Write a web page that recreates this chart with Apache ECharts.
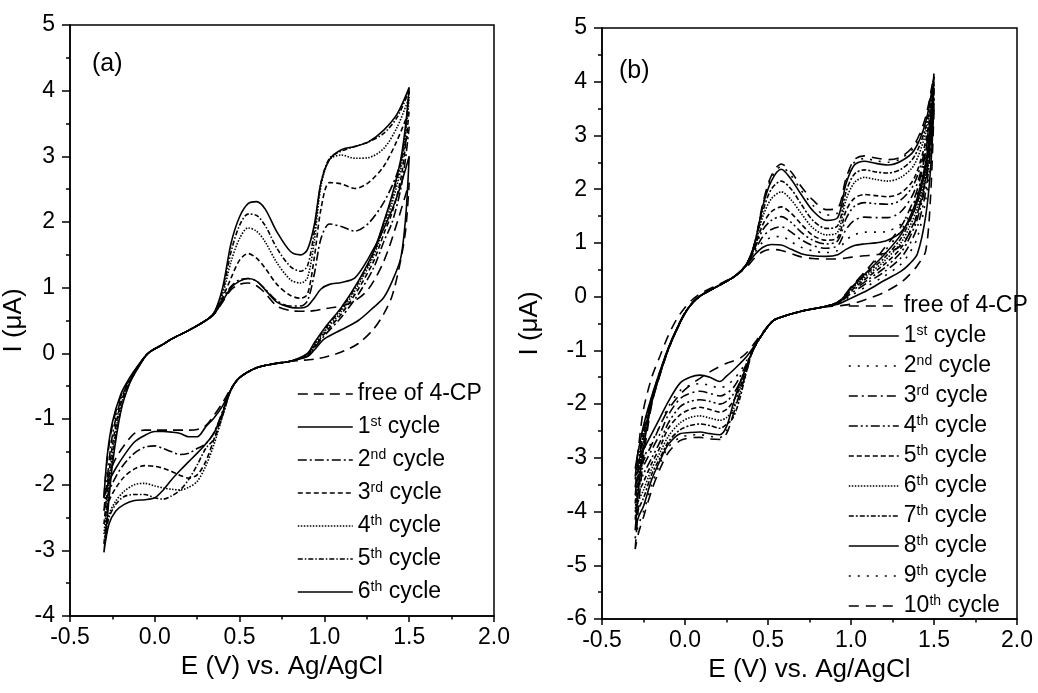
<!DOCTYPE html>
<html><head><meta charset="utf-8">
<script src="https://cdn.jsdelivr.net/npm/echarts@6/dist/echarts.min.js"></script>
<style>html,body{margin:0;padding:0;background:#fff}#c{width:1038px;height:693px}</style>
</head><body><div id="c"></div>
<script>
// ---------- Panel (a): potential path (V) and currents (µA) ----------
const aX = [-0.3,-0.28,-0.25,-0.2,-0.15,-0.1,-0.04,0.05,0.1,0.2,0.3,
 0.35,0.4,0.45,0.5,0.55,0.6,0.65,0.72,0.8,0.86,0.9,0.94,0.98,1.03,1.1,1.18,1.26,1.35,1.43,1.5,
 1.48,1.45,1.4,1.35,1.29,1.2,1.1,1.0,0.94,0.9,
 0.8,0.7,0.6,0.5,0.45,
 0.4,0.35,0.3,0.25,0.2,0.15,0.1,0.05,0.0,-0.06,-0.12,-0.18,-0.23,-0.27,-0.3];
const aFree = [-2.2,-1.6,-1.1,-0.65,-0.4,-0.2,0.0,0.14,0.22,0.35,0.5,
 0.6,0.78,0.97,1.05,1.07,1.03,0.92,0.72,0.65,0.64,0.64,0.65,0.67,0.69,0.72,0.8,0.98,1.4,2.0,2.6,
 1.9,1.42,0.88,0.6,0.37,0.15,0.02,-0.06,-0.09,-0.1,
 -0.12,-0.16,-0.22,-0.37,-0.53,
 -0.75,-0.94,-1.1,-1.16,-1.17,-1.17,-1.17,-1.17,-1.17,-1.17,-1.22,-1.4,-1.6,-1.85,-2.2];
const a1 = [-2.2,-1.55,-1.05,-0.62,-0.38,-0.19,0.0,0.14,0.22,0.35,0.5,
 0.6,0.8,1.0,1.1,1.14,1.1,0.97,0.78,0.7,0.69,0.72,0.84,0.98,1.05,1.08,1.15,1.45,1.9,2.4,3.0,
 2.1,1.45,1.1,0.85,0.7,0.5,0.36,0.22,0.05,-0.05,
 -0.12,-0.16,-0.22,-0.37,-0.55,
 -0.8,-0.98,-1.12,-1.27,-1.27,-1.22,-1.2,-1.19,-1.19,-1.25,-1.35,-1.55,-1.75,-1.95,-2.2];
const a2 = [-2.4,-1.9,-1.25,-0.7,-0.42,-0.2,0.0,0.14,0.22,0.35,0.5,
 0.6,0.82,1.02,1.12,1.14,1.1,0.98,0.8,0.72,0.72,0.8,1.2,1.75,1.97,1.93,1.86,1.98,2.3,2.75,3.45,
 3.0,2.5,2.0,1.7,1.3,0.9,0.55,0.27,0.08,-0.04,
 -0.12,-0.16,-0.22,-0.37,-0.55,
 -0.88,-1.2,-1.38,-1.45,-1.52,-1.54,-1.5,-1.45,-1.41,-1.43,-1.52,-1.68,-1.88,-2.1,-2.4];
const a3 = [-2.6,-2.1,-1.4,-0.75,-0.44,-0.21,0.0,0.14,0.22,0.35,0.5,
 0.6,0.85,1.15,1.42,1.52,1.45,1.3,1.05,0.88,0.84,0.9,1.45,2.2,2.6,2.58,2.51,2.6,2.85,3.25,3.7,
 3.2,2.65,2.15,1.82,1.4,0.98,0.6,0.3,0.1,-0.03,
 -0.12,-0.16,-0.22,-0.37,-0.55,
 -0.92,-1.3,-1.65,-1.85,-1.9,-1.86,-1.8,-1.75,-1.72,-1.71,-1.76,-1.88,-2.05,-2.25,-2.6];
const a4 = [-2.75,-2.25,-1.5,-0.8,-0.45,-0.22,0.0,0.14,0.22,0.35,0.5,
 0.62,0.9,1.4,1.75,1.91,1.86,1.7,1.38,1.12,1.07,1.15,1.7,2.55,2.95,3.02,2.97,2.98,3.12,3.45,3.9,
 3.35,2.8,2.3,1.92,1.48,1.04,0.64,0.33,0.12,-0.02,
 -0.12,-0.16,-0.22,-0.37,-0.55,
 -0.95,-1.38,-1.72,-1.95,-2.04,-2.08,-2.07,-2.05,-2.02,-1.98,-2.0,-2.1,-2.25,-2.45,-2.75];
const a5 = [-2.9,-2.4,-1.6,-0.85,-0.46,-0.22,0.0,0.14,0.22,0.35,0.5,
 0.62,0.95,1.55,1.95,2.12,2.1,1.95,1.6,1.32,1.25,1.33,1.85,2.6,2.97,3.08,3.15,3.22,3.35,3.6,4.0,
 3.45,2.9,2.38,1.98,1.52,1.08,0.68,0.36,0.14,-0.01,
 -0.12,-0.16,-0.22,-0.37,-0.55,
 -0.95,-1.3,-1.45,-1.7,-1.92,-2.08,-2.17,-2.22,-2.2,-2.15,-2.15,-2.18,-2.3,-2.5,-2.9];
const a6 = [-3.03,-2.5,-1.7,-0.88,-0.47,-0.23,0.0,0.14,0.22,0.35,0.5,
 0.62,1.0,1.68,2.08,2.28,2.31,2.2,1.85,1.55,1.5,1.58,1.95,2.6,2.95,3.1,3.15,3.22,3.4,3.65,4.05,
 3.5,2.95,2.42,2.0,1.55,1.1,0.7,0.38,0.16,0.0,
 -0.12,-0.16,-0.22,-0.37,-0.55,
 -0.9,-1.21,-1.38,-1.52,-1.65,-1.78,-1.92,-2.08,-2.2,-2.23,-2.24,-2.3,-2.4,-2.6,-3.03];
const aNames = ['free of 4-CP','1st cycle','2nd cycle','3rd cycle','4th cycle','5th cycle','6th cycle'];

// ---------- Panel (b) ----------
const bX = [-0.3,-0.28,-0.25,-0.2,-0.15,-0.1,-0.05,0.0,0.05,0.1,0.2,0.3,
 0.37,0.42,0.47,0.52,0.58,0.64,0.70,0.77,0.85,0.92,0.97,1.02,1.08,1.15,1.22,1.30,1.38,1.45,1.50,
 1.48,1.45,1.4,1.35,1.3,1.2,1.1,1.0,0.93,
 0.85,0.75,0.69,0.6,0.53,0.47,
 0.41,0.37,0.33,0.29,0.25,0.21,0.15,0.09,0.03,-0.03,-0.1,-0.15,-0.2,-0.25,-0.28,-0.3];
const bFree = [-3.35,-2.8,-2.1,-1.5,-1.1,-0.72,-0.42,-0.2,-0.04,0.07,0.22,0.38,
 0.55,0.72,0.84,0.88,0.86,0.80,0.74,0.71,0.70,0.70,0.72,0.74,0.76,0.78,0.82,0.95,1.35,2.2,3.5,
 1.9,0.85,0.58,0.4,0.26,0.08,-0.04,-0.14,-0.17,
 -0.19,-0.24,-0.28,-0.36,-0.45,-0.66,
 -0.9,-1.05,-1.15,-1.2,-1.24,-1.3,-1.4,-1.52,-1.65,-1.82,-2.1,-2.4,-2.75,-3.05,-3.22,-3.35];
const b1 = [-3.2,-2.85,-2.4,-1.85,-1.38,-0.95,-0.6,-0.3,-0.1,0.03,0.2,0.38,
 0.58,0.78,0.92,0.97,0.96,0.88,0.80,0.76,0.75,0.78,0.88,0.95,0.98,1.00,1.05,1.20,1.6,2.4,3.6,
 2.4,1.5,0.8,0.6,0.47,0.3,0.12,-0.03,-0.13,
 -0.18,-0.24,-0.28,-0.36,-0.45,-0.68,
 -0.95,-1.12,-1.25,-1.37,-1.48,-1.58,-1.5,-1.46,-1.5,-1.61,-1.95,-2.25,-2.55,-2.85,-3.05,-3.2];
const b2 = [-3.4,-2.95,-2.45,-1.86,-1.39,-0.95,-0.6,-0.3,-0.1,0.03,0.2,0.38,
 0.58,0.82,1.02,1.10,1.12,1.02,0.92,0.85,0.82,0.86,1.05,1.15,1.20,1.20,1.22,1.35,1.75,2.55,3.7,
 2.6,1.8,1.1,0.8,0.6,0.38,0.2,0.02,-0.12,
 -0.18,-0.24,-0.28,-0.36,-0.45,-0.68,
 -0.97,-1.2,-1.4,-1.55,-1.65,-1.7,-1.65,-1.62,-1.65,-1.75,-2.05,-2.4,-2.7,-3.0,-3.2,-3.4];
const b3 = [-3.55,-3.05,-2.5,-1.88,-1.4,-0.96,-0.6,-0.3,-0.1,0.03,0.2,0.38,
 0.59,0.86,1.12,1.25,1.30,1.20,1.06,0.95,0.90,0.95,1.25,1.42,1.48,1.47,1.47,1.58,1.95,2.7,3.8,
 2.75,1.95,1.3,0.95,0.72,0.46,0.26,0.06,-0.11,
 -0.18,-0.24,-0.28,-0.36,-0.45,-0.68,
 -0.98,-1.25,-1.5,-1.7,-1.8,-1.85,-1.8,-1.76,-1.8,-1.9,-2.2,-2.55,-2.85,-3.15,-3.35,-3.55];
const b4 = [-3.7,-3.15,-2.55,-1.9,-1.4,-0.96,-0.61,-0.3,-0.1,0.03,0.2,0.38,
 0.6,0.9,1.25,1.42,1.49,1.38,1.2,1.05,0.98,1.04,1.45,1.68,1.75,1.73,1.72,1.8,2.1,2.8,3.85,
 2.85,2.1,1.45,1.08,0.82,0.53,0.31,0.09,-0.1,
 -0.18,-0.24,-0.28,-0.36,-0.45,-0.68,
 -0.99,-1.3,-1.6,-1.82,-1.95,-2.0,-1.95,-1.92,-1.95,-2.05,-2.35,-2.7,-3.0,-3.3,-3.5,-3.7];
const b5 = [-3.85,-3.25,-2.6,-1.92,-1.41,-0.97,-0.61,-0.3,-0.1,0.03,0.2,0.38,
 0.6,0.92,1.35,1.58,1.67,1.55,1.35,1.14,1.05,1.1,1.6,1.83,1.9,1.88,1.86,1.93,2.2,2.9,3.9,
 2.95,2.2,1.55,1.18,0.9,0.6,0.36,0.11,-0.1,
 -0.18,-0.24,-0.28,-0.36,-0.45,-0.68,
 -0.99,-1.32,-1.7,-1.95,-2.1,-2.15,-2.1,-2.06,-2.1,-2.2,-2.45,-2.8,-3.1,-3.45,-3.65,-3.85];
const b6 = [-4.0,-3.35,-2.68,-1.94,-1.42,-0.97,-0.61,-0.31,-0.1,0.03,0.2,0.38,
 0.6,0.95,1.5,1.82,1.95,1.8,1.55,1.28,1.15,1.2,1.8,2.12,2.22,2.18,2.15,2.22,2.45,3.05,3.95,
 3.05,2.3,1.65,1.28,1.0,0.66,0.4,0.13,-0.1,
 -0.18,-0.24,-0.28,-0.36,-0.45,-0.68,
 -0.99,-1.35,-1.8,-2.1,-2.25,-2.3,-2.26,-2.22,-2.25,-2.35,-2.6,-2.9,-3.2,-3.6,-3.8,-4.0];
const b7 = [-4.15,-3.45,-2.75,-1.95,-1.43,-0.97,-0.62,-0.31,-0.1,0.03,0.2,0.38,
 0.6,0.98,1.6,2.0,2.15,2.0,1.72,1.42,1.27,1.32,1.95,2.28,2.36,2.32,2.3,2.37,2.6,3.15,4.0,
 3.15,2.4,1.75,1.38,1.08,0.72,0.44,0.15,-0.09,
 -0.18,-0.24,-0.28,-0.36,-0.45,-0.68,
 -0.99,-1.4,-1.9,-2.25,-2.38,-2.45,-2.4,-2.37,-2.4,-2.48,-2.7,-3.0,-3.3,-3.75,-3.95,-4.15];
const b8 = [-4.35,-3.6,-2.82,-1.97,-1.44,-0.98,-0.62,-0.31,-0.1,0.03,0.2,0.38,
 0.6,1.0,1.7,2.15,2.37,2.18,1.9,1.6,1.42,1.47,2.1,2.45,2.52,2.48,2.45,2.52,2.72,3.25,4.1,
 3.25,2.5,1.85,1.45,1.15,0.78,0.47,0.16,-0.09,
 -0.18,-0.24,-0.28,-0.36,-0.45,-0.68,
 -0.99,-1.3,-1.61,-2.0,-2.42,-2.57,-2.55,-2.52,-2.53,-2.55,-2.75,-3.05,-3.4,-3.9,-4.1,-4.35];
const b9 = [-4.5,-3.75,-2.9,-1.98,-1.44,-0.98,-0.62,-0.31,-0.1,0.03,0.2,0.38,
 0.6,1.0,1.72,2.2,2.42,2.25,1.98,1.7,1.52,1.56,2.15,2.5,2.57,2.53,2.5,2.57,2.78,3.3,4.12,
 3.32,2.6,1.92,1.52,1.22,0.84,0.5,0.17,-0.08,
 -0.18,-0.24,-0.28,-0.36,-0.45,-0.68,
 -1.0,-1.35,-1.7,-2.1,-2.5,-2.62,-2.6,-2.57,-2.58,-2.62,-2.8,-3.1,-3.5,-4.0,-4.25,-4.5];
const b10 = [-4.7,-3.9,-3.0,-2.0,-1.45,-0.98,-0.62,-0.31,-0.1,0.03,0.2,0.38,
 0.6,1.0,1.75,2.25,2.47,2.32,2.05,1.8,1.62,1.65,2.2,2.55,2.62,2.58,2.55,2.6,2.82,3.35,4.15,
 3.4,2.7,2.0,1.6,1.3,0.9,0.52,0.18,-0.08,
 -0.18,-0.24,-0.28,-0.36,-0.45,-0.68,
 -1.0,-1.4,-1.8,-2.2,-2.55,-2.66,-2.65,-2.62,-2.63,-2.68,-2.9,-3.2,-3.6,-4.1,-4.4,-4.7];
const bNames = ['free of 4-CP','1st cycle','2nd cycle','3rd cycle','4th cycle','5th cycle',
 '6th cycle','7th cycle','8th cycle','9th cycle','10th cycle'];

// ---------- styles ----------
const FONT = '"Liberation Sans", Arial, sans-serif';
const aDash = [[10,6],'solid',[9,3,2,3],[5,3],[1.5,1.5],[5,2,1.5,2],'solid'];
const bDash = [[10,7],'solid',[2,7],[9,4,2,4],[9,3,2,3,2,3],[5,3],[1.5,1.5],[5,2,2,2],'solid',[2,7],[10,7]];
const aCurves = [aFree,a1,a2,a3,a4,a5,a6];
const bCurves = [bFree,b1,b2,b3,b4,b5,b6,b7,b8,b9,b10];

function fmtName(n){
  const s = n.replace(/^[ab]:/, '');
  const m = s.match(/^(\d+)(st|nd|rd|th) (cycle)$/);
  if (m) return m[1] + '{s|' + m[2] + '} ' + m[3];
  return s;
}
function xAxisCfg(gi){
  return {type:'value', gridIndex:gi, min:-0.5, max:2.0, interval:0.5,
    name:'E (V) vs. Ag/AgCl', nameLocation:'middle', nameGap:36,
    nameTextStyle:{fontSize:26, fontFamily:FONT, color:'#000'},
    axisLine:{onZero:false, lineStyle:{color:'#000', width:1.5}},
    axisTick:{length:6, lineStyle:{color:'#000', width:1.5}},
    minorTick:{show:true, splitNumber:2, length:3.5, lineStyle:{color:'#000', width:1.5}},
    splitLine:{show:false}, minorSplitLine:{show:false},
    axisLabel:{fontSize:23, fontFamily:FONT, color:'#000', margin:10, showMinLabel:true, showMaxLabel:true,
      formatter:v=>v.toFixed(1)}};
}
function yAxisCfg(gi,min,gap){
  return {type:'value', gridIndex:gi, min:min, max:5, interval:1,
    name:'I (\u03bcA)', nameLocation:'middle', nameGap:gap, nameRotate:90,
    nameTextStyle:{fontSize:26, fontFamily:FONT, color:'#000'},
    axisLine:{onZero:false, lineStyle:{color:'#000', width:1.5}},
    axisTick:{length:8, lineStyle:{color:'#000', width:1.5}},
    minorTick:{show:true, splitNumber:2, length:4, lineStyle:{color:'#000', width:1.5}},
    splitLine:{show:false}, minorSplitLine:{show:false},
    axisLabel:{fontSize:23, fontFamily:FONT, color:'#000', margin:15, showMinLabel:true, showMaxLabel:true,
      formatter:v=>String(v)}};
}
function legendCfg(names, left, top, w, gap){
  return {data:names, orient:'vertical', left:left, top:top, itemWidth:w, itemHeight:12, itemGap:gap,
    padding:0, selectedMode:false, formatter:fmtName,
    itemStyle:{opacity:0, borderWidth:0},
    lineStyle:{color:'#000', width:1.6},
    textStyle:{fontSize:23, fontFamily:FONT, color:'#000', lineHeight:24,
      rich:{s:{fontSize:14, fontFamily:FONT, color:'#000', verticalAlign:'top', lineHeight:14}}}};
}

const series = [];
aCurves.forEach((ys,i)=>series.push({type:'line', name:'a:'+aNames[i], xAxisIndex:0, yAxisIndex:0,
  data:aX.map((x,j)=>[x,ys[j]]), symbol:'none', smooth:0.3, silent:true,
  lineStyle:{color:'#000', width:1.6, type:aDash[i]}, itemStyle:{color:'#000'}}));
bCurves.forEach((ys,i)=>series.push({type:'line', name:'b:'+bNames[i], xAxisIndex:1, yAxisIndex:1,
  data:bX.map((x,j)=>[x,ys[j]]), symbol:'none', smooth:0.3, silent:true,
  lineStyle:{color:'#000', width:1.6, type:bDash[i]}, itemStyle:{color:'#000'}}));

const chart = echarts.init(document.getElementById('c'));
chart.setOption({
  animation:false, backgroundColor:'#fff',
  title:[
    {text:'(a)', left:92, top:52, padding:0, textStyle:{fontSize:25, fontWeight:'normal', fontFamily:FONT, color:'#000'}},
    {text:'(b)', left:619, top:59, padding:0, textStyle:{fontSize:25, fontWeight:'normal', fontFamily:FONT, color:'#000'}}
  ],
  grid:[
    {left:68, top:25, width:426, height:591, show:true, borderColor:'#000', borderWidth:1.5},
    {left:602, top:28, width:415, height:591, show:true, borderColor:'#000', borderWidth:1.5}
  ],
  xAxis:[xAxisCfg(0), xAxisCfg(1)],
  yAxis:[yAxisCfg(0,-4,43), yAxisCfg(1,-6,59)],
  legend:[
    legendCfg(aNames.map(n=>'a:'+n), 297, 382, 55, 9),
    legendCfg(bNames.map(n=>'b:'+n), 848, 294, 50, 6)
  ],
  series:series
});
</script></body></html>
